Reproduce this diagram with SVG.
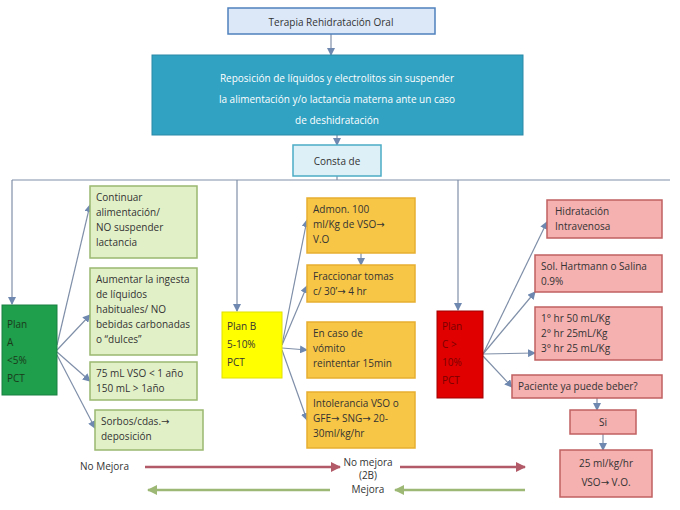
<svg xmlns="http://www.w3.org/2000/svg" width="680" height="510" viewBox="0 0 680 510">
<defs>
<marker id="ar" markerWidth="8" markerHeight="8" refX="7" refY="4" orient="auto" markerUnits="userSpaceOnUse"><path d="M0,0 L8,4 L0,8 z" fill="#6E88B0"/></marker>
<marker id="arr" markerWidth="10" markerHeight="10" refX="9" refY="5" orient="auto" markerUnits="userSpaceOnUse"><path d="M0,0 L10,5 L0,10 z" fill="#B25A68"/></marker>
<marker id="arg" markerWidth="10" markerHeight="10" refX="9" refY="5" orient="auto" markerUnits="userSpaceOnUse"><path d="M0,0 L10,5 L0,10 z" fill="#9CB874"/></marker>
</defs>
<style>
text{font-family:"Open Sans","Liberation Sans",sans-serif;font-size:10px;fill:#333}
.ar{font-family:"DejaVu Sans",sans-serif}
.g rect{fill:#E2F0C8;stroke:#9AB870;stroke-width:1.5}
.y rect{fill:#F8C646;stroke:#E6AE30;stroke-width:1.5}
.p rect{fill:#F5B0B0;stroke:#C06060;stroke-width:1.5}
.c line,.c path{stroke:#7F8FA8;stroke-width:1.2;fill:none}
.ca{marker-end:url(#ar)}
.red{stroke:#B25A68;stroke-width:2.5;marker-end:url(#arr)}
.grn{stroke:#9CB874;stroke-width:2.5;marker-end:url(#arg)}
</style>
<rect width="680" height="510" fill="#fff"/>
<g class="c">
<line class="ca" x1="331" y1="34" x2="331" y2="55"/>
<line class="ca" x1="337" y1="135" x2="337" y2="145"/>
<line x1="337" y1="176" x2="337" y2="180"/>
<path d="M12,180 H670"/>
<line class="ca" x1="12" y1="180" x2="12" y2="304"/>
<line class="ca" x1="237" y1="180" x2="237" y2="311"/>
<line class="ca" x1="458" y1="180" x2="458" y2="310"/>
<line class="ca" x1="57" y1="345" x2="90" y2="205"/>
<line class="ca" x1="57" y1="350" x2="90" y2="315"/>
<line class="ca" x1="57" y1="352" x2="90" y2="381"/>
<line class="ca" x1="57" y1="355" x2="95" y2="428"/>
<line class="ca" x1="282" y1="345" x2="307" y2="220"/>
<line class="ca" x1="282" y1="345" x2="307" y2="286"/>
<line class="ca" x1="282" y1="348" x2="307" y2="350"/>
<line class="ca" x1="282" y1="350" x2="307" y2="420"/>
<line class="ca" x1="361" y1="253" x2="361" y2="265"/>
<line class="ca" x1="483" y1="354" x2="547" y2="222"/>
<line class="ca" x1="483" y1="354" x2="535" y2="292"/>
<line class="ca" x1="483" y1="354" x2="535" y2="353"/>
<line class="ca" x1="483" y1="356" x2="512" y2="387"/>
<line class="ca" x1="597" y1="398" x2="597" y2="410"/>
<line class="ca" x1="603" y1="434" x2="603" y2="450"/>
</g>
<g id="bottom-arrows">
<line class="red" x1="145" y1="467" x2="340" y2="467"/>
<line class="red" x1="400" y1="467" x2="525" y2="467"/>
<line class="grn" x1="330" y1="490" x2="148" y2="490"/>
<line class="grn" x1="525" y1="490" x2="395" y2="490"/>
</g>
<g id="top"><rect x="228" y="8" width="207" height="26" fill="#DCE8F8" stroke="#4F81BD" stroke-width="1.5"/><text x="331" y="26" text-anchor="middle" font-size="12">Terapia Rehidratación Oral</text></g>
<g id="main"><rect x="152" y="55" width="371" height="80" fill="#31A2C2" stroke="#2A8AA8"/>
<text text-anchor="middle" font-size="13" style="fill:#fff"><tspan x="337" y="82">Reposición de líquidos y electrolitos sin suspender</tspan><tspan x="337" y="103">la alimentación y/o lactancia materna ante un caso</tspan><tspan x="337" y="124">de deshidratación</tspan></text></g>
<g id="consta"><rect x="293" y="145" width="88" height="31" fill="#DDF0F8" stroke="#4BACC6" stroke-width="1.5"/><text x="337" y="165" text-anchor="middle" font-size="12">Consta de</text></g>
<g id="planA"><rect x="2" y="305" width="55" height="90" fill="#1F9E4C" stroke="#188040"/><text font-size="12" style="fill:#1a3a1a"><tspan x="7" y="328">Plan</tspan><tspan x="7" y="346">A</tspan><tspan x="7" y="364">&lt;5%</tspan><tspan x="7" y="382">PCT</tspan></text></g>
<g id="planB"><rect x="222" y="312" width="60" height="66" fill="#FFFF00" stroke="#E0E000"/><text font-size="12"><tspan x="227" y="330">Plan B</tspan><tspan x="227" y="348">5-10%</tspan><tspan x="227" y="366">PCT</tspan></text></g>
<g id="planC"><rect x="437" y="311" width="46" height="87" fill="#E00000" stroke="#A00000"/><text font-size="12" style="fill:#7a0000"><tspan x="442" y="330">Plan</tspan><tspan x="442" y="348">C &gt;</tspan><tspan x="442" y="366">10%</tspan><tspan x="442" y="384">PCT</tspan></text></g>
<g id="a1" class="g"><rect x="90" y="186" width="107" height="72"/><text><tspan x="96" y="201">Continuar</tspan><tspan x="96" y="216">alimentación/</tspan><tspan x="96" y="231">NO suspender</tspan><tspan x="96" y="246">lactancia</tspan></text></g>
<g id="a2" class="g"><rect x="90" y="268" width="107" height="87"/><text><tspan x="96" y="283">Aumentar la ingesta</tspan><tspan x="96" y="298">de líquidos</tspan><tspan x="96" y="313">habituales/ NO</tspan><tspan x="96" y="328">bebidas carbonadas</tspan><tspan x="96" y="343">o “dulces”</tspan></text></g>
<g id="a3" class="g"><rect x="90" y="362" width="107" height="38"/><text><tspan x="96" y="377">75 mL VSO &lt; 1 año</tspan><tspan x="96" y="392">150 mL &gt; 1año</tspan></text></g>
<g id="a4" class="g"><rect x="95" y="410" width="108" height="40"/><text><tspan x="101" y="425">Sorbos/cdas.<tspan class="ar">→</tspan></tspan><tspan x="101" y="440">deposición</tspan></text></g>
<g id="b1" class="y"><rect x="307" y="198" width="108" height="55"/><text><tspan x="313" y="213">Admon. 100</tspan><tspan x="313" y="228">ml/Kg de VSO<tspan class="ar">→</tspan></tspan><tspan x="313" y="243">V.O</tspan></text></g>
<g id="b2" class="y"><rect x="307" y="265" width="108" height="37"/><text><tspan x="313" y="280">Fraccionar tomas</tspan><tspan x="313" y="295">c/ 30’<tspan class="ar">→</tspan> 4 hr</tspan></text></g>
<g id="b3" class="y"><rect x="307" y="322" width="108" height="56"/><text><tspan x="313" y="337">En caso de</tspan><tspan x="313" y="352">vómito</tspan><tspan x="313" y="367">reintentar 15min</tspan></text></g>
<g id="b4" class="y"><rect x="307" y="392" width="108" height="56"/><text><tspan x="313" y="407">Intolerancia VSO o</tspan><tspan x="313" y="422">GFE<tspan class="ar">→</tspan> SNG<tspan class="ar">→</tspan> 20-</tspan><tspan x="313" y="437">30ml/kg/hr</tspan></text></g>
<g id="c1" class="p"><rect x="547" y="200" width="115" height="38"/><text><tspan x="555" y="215">Hidratación</tspan><tspan x="555" y="230">Intravenosa</tspan></text></g>
<g id="c2" class="p"><rect x="535" y="255" width="127" height="37"/><text><tspan x="541" y="270">Sol. Hartmann o Salina</tspan><tspan x="541" y="285">0.9%</tspan></text></g>
<g id="c3" class="p"><rect x="535" y="307" width="127" height="53"/><text><tspan x="541" y="322">1° hr 50 mL/Kg</tspan><tspan x="541" y="337">2° hr 25mL/Kg</tspan><tspan x="541" y="352">3° hr 25 mL/Kg</tspan></text></g>
<g id="c4" class="p"><rect x="512" y="375" width="150" height="23"/><text x="518" y="390">Paciente ya puede beber?</text></g>
<g id="si" class="p"><rect x="570" y="410" width="66" height="24"/><text x="603" y="426" text-anchor="middle">Si</text></g>
<g id="c5" class="p"><rect x="560" y="450" width="92" height="47"/><text text-anchor="middle"><tspan x="606" y="467">25 ml/kg/hr</tspan><tspan x="606" y="486">VSO<tspan class="ar">→</tspan> V.O.</tspan></text></g>
<g id="labels"><text x="80" y="470" font-size="8">No Mejora</text><text x="368" y="466" text-anchor="middle" font-size="8">No mejora</text><text x="368" y="479" text-anchor="middle" font-size="8">(2B)</text><text x="368" y="493" text-anchor="middle" font-size="8">Mejora</text></g>
</svg>
